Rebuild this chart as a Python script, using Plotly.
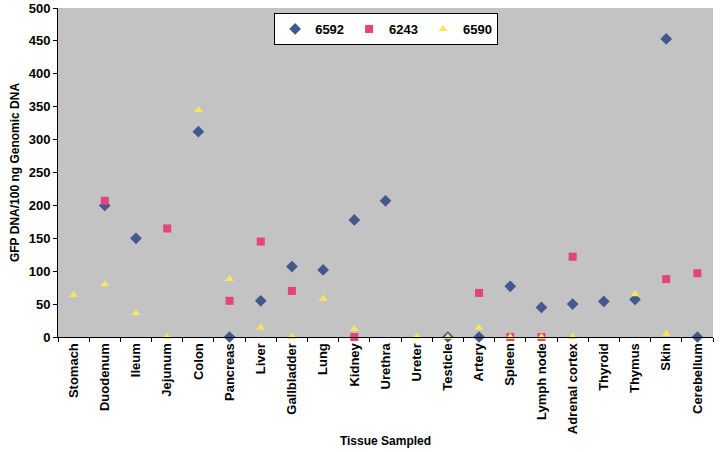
import plotly.graph_objects as go

tissues = ["Stomach", "Duodenum", "Ileum", "Jejunum", "Colon", "Pancreas", "Liver",
           "Gallbladder", "Lung", "Kidney", "Urethra", "Ureter", "Testicle", "Artery",
           "Spleen", "Lymph node", "Adrenal cortex", "Thyroid", "Thymus", "Skin", "Cerebellum"]

s6592 = [None, 200, 150, None, 312, 0, 55, 107, 102, 178, 207, None, 0, 0, 77, 45, 50, 54, 57, 453, 0]
s6243 = [None, 207, None, 165, None, 55, 145, 70, None, 0, None, None, None, 67, 0, 0, 122, None, None, 88, 97]
s6590 = [64, 80, 36, 0, 345, 88, 14, 0, 58, 12, None, 0, 0, 14, 0, 0, 0, None, 65, 5, None]

fam = "Liberation Sans, Arial, sans-serif"
fig = go.Figure()
fig.add_trace(go.Scatter(x=tissues, y=s6592, mode="markers", name="<b>6592</b>", cliponaxis=False,
                         marker=dict(symbol="diamond", size=9, color="#43598C")))
fig.add_trace(go.Scatter(x=tissues, y=s6243, mode="markers", name="<b>6243</b>", cliponaxis=False,
                         marker=dict(symbol="square", size=8, color="#E2447C")))
fig.add_trace(go.Scatter(x=tissues, y=s6590, mode="markers", name="<b>6590</b>", cliponaxis=False,
                         marker=dict(symbol="triangle-up", size=8, color="#F4E65E")))

fig.update_layout(
    width=726, height=452,
    margin=dict(l=58, r=13, t=8, b=115),
    paper_bgcolor="white", plot_bgcolor="#C3C3C3",
    font=dict(family=fam, size=12, color="black"),
    showlegend=True,
    legend=dict(orientation="h", x=0.33, y=0.985, xanchor="left", yanchor="top",
                bgcolor="white", bordercolor="black", borderwidth=1,
                font=dict(family=fam, size=13, color="black"),
                itemwidth=30, tracegroupgap=0),
    xaxis=dict(tickangle=-90, showgrid=False, showline=True, linecolor="black",
               ticks="outside", tickson="boundaries", ticklen=4, tickcolor="black",
               automargin=False,
               tickfont=dict(family=fam, size=13, color="black", weight="bold"),
               title=dict(text="<b>Tissue Sampled</b>", font=dict(size=12), standoff=3),
               range=[-0.5, 20.5]),
    yaxis=dict(range=[0, 500], tickvals=list(range(0, 501, 50)), showgrid=False, showline=True,
               linecolor="black", ticks="outside", ticklen=4, tickcolor="black",
               ticklabeloverflow="allow", automargin=False,
               tickfont=dict(family=fam, size=13, color="black", weight="bold"),
               title=dict(text="<b>GFP DNA/100 ng Genomic DNA</b>", font=dict(size=12), standoff=6),
               zeroline=False),
)
fig.write_html("out.html")
